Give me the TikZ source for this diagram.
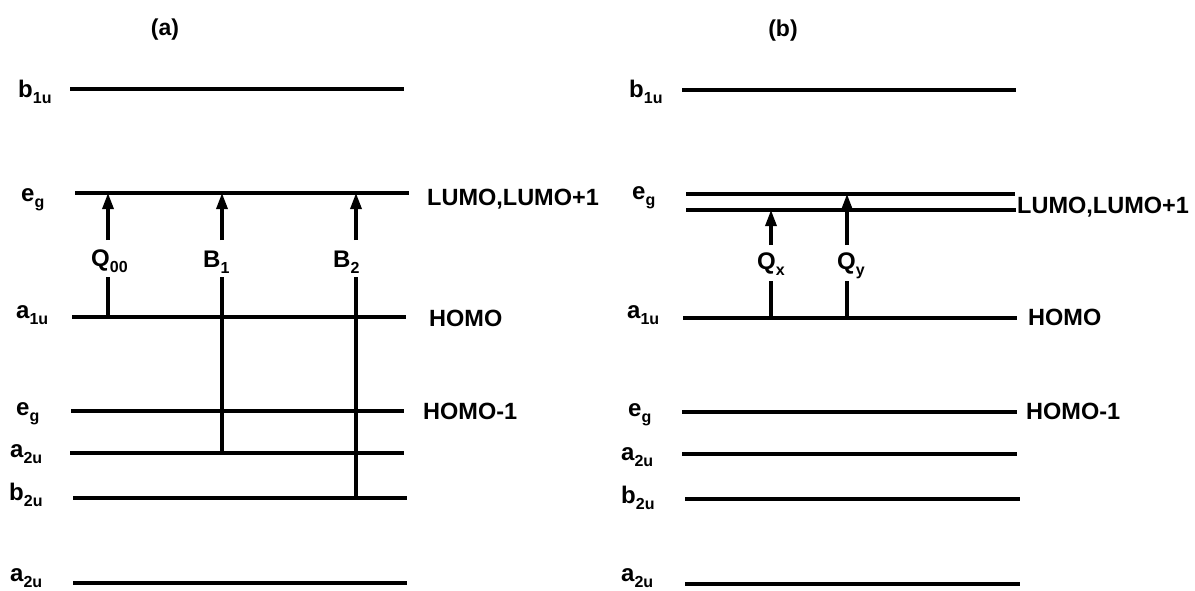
\documentclass[tikz,border=0pt]{standalone}
\usepackage{fontspec}
\setmainfont{Liberation Sans}
\usetikzlibrary{arrows.meta}
\newcommand\mysubtxt[2]{{\fontsize{24}{24}\selectfont #1}\raisebox{-6pt}{\fontsize{16}{16}\selectfont #2}}
\begin{document}
\begin{tikzpicture}[x=1pt,y=-1pt,
  level/.style={line width=3.5pt},
  trans/.style={line width=3.2pt},
  transarrow/.style={line width=3.2pt,-{Triangle[length=16pt,width=11pt]}},
  txt/.style={inner sep=0pt,anchor=base west,font=\bfseries\fontsize{23.5}{23.5}\selectfont},
  lbl/.style={inner sep=0pt,anchor=base west,font=\bfseries}
]
\useasboundingbox (0,0) rectangle (1195,590);

% panel titles
\node[inner sep=0pt,anchor=base,font=\bfseries\fontsize{23}{23}\selectfont] (ta) at (165,35) {(a)};
\node[inner sep=0pt,anchor=base,font=\bfseries\fontsize{23}{23}\selectfont] (tb) at (783,36) {(b)};

% ---------- panel (a) levels ----------
\coordinate (ab1uL) at (70,89);  \coordinate (ab1uR) at (404,89);
\coordinate (aeg1L) at (75,193); \coordinate (aeg1R) at (409,193);
\coordinate (aa1uL) at (72,317); \coordinate (aa1uR) at (406,317);
\coordinate (aeg2L) at (71,411); \coordinate (aeg2R) at (404,411);
\coordinate (aa2uL) at (70,453); \coordinate (aa2uR) at (404,453);
\coordinate (ab2uL) at (73,498); \coordinate (ab2uR) at (407,498);
\coordinate (aa2bL) at (73,583); \coordinate (aa2bR) at (407,583);
\foreach \n in {ab1u,aeg1,aa1u,aeg2,aa2u,ab2u,aa2b}
  \draw[level] (\n L) -- (\n R);

% ---------- panel (b) levels ----------
\coordinate (bb1uL) at (682,90);  \coordinate (bb1uR) at (1016,90);
\coordinate (beg1L) at (686,194); \coordinate (beg1R) at (1015,194);
\coordinate (beg3L) at (686,210); \coordinate (beg3R) at (1016,210);
\coordinate (ba1uL) at (683,318); \coordinate (ba1uR) at (1017,318);
\coordinate (beg2L) at (682,412); \coordinate (beg2R) at (1017,412);
\coordinate (ba2uL) at (682,454); \coordinate (ba2uR) at (1017,454);
\coordinate (bb2uL) at (685,499); \coordinate (bb2uR) at (1020,499);
\coordinate (ba2bL) at (685,584); \coordinate (ba2bR) at (1020,584);
\foreach \n in {bb1u,beg1,beg3,ba1u,beg2,ba2u,bb2u,ba2b}
  \draw[level] (\n L) -- (\n R);

% ---------- level labels (a) ----------
\node[lbl] (la1) at (18,97)  {\mysubtxt{b}{1u}};
\node[lbl] (la2) at (21,201) {\mysubtxt{e}{g}};
\node[lbl] (la3) at (16,318) {\mysubtxt{a}{1u}};
\node[lbl] (la4) at (16,415) {\mysubtxt{e}{g}};
\node[lbl] (la5) at (10,457) {\mysubtxt{a}{2u}};
\node[lbl] (la6) at (9,500)  {\mysubtxt{b}{2u}};
\node[lbl] (la7) at (10,581) {\mysubtxt{a}{2u}};

% ---------- level labels (b) ----------
\node[lbl] (lb1) at (629,97)  {\mysubtxt{b}{1u}};
\node[lbl] (lb2) at (632,199) {\mysubtxt{e}{g}};
\node[lbl] (lb3) at (627,318) {\mysubtxt{a}{1u}};
\node[lbl] (lb4) at (628,416) {\mysubtxt{e}{g}};
\node[lbl] (lb5) at (621,460) {\mysubtxt{a}{2u}};
\node[lbl] (lb6) at (621,503) {\mysubtxt{b}{2u}};
\node[lbl] (lb7) at (621,581) {\mysubtxt{a}{2u}};

% ---------- right labels ----------
\node[txt] (ra1) at (427,205)  {LUMO,LUMO+1};
\node[txt] (ra2) at (429,326)  {HOMO};
\node[txt] (ra3) at (423,419)  {HOMO-1};
\node[txt] (rb1) at (1017,213) {LUMO,LUMO+1};
\node[txt] (rb2) at (1028,325) {HOMO};
\node[txt] (rb3) at (1026,419) {HOMO-1};

% ---------- transition labels ----------
\node[lbl] (q00) at (91,266)  {\mysubtxt{Q}{00}};
\node[lbl] (b1)  at (203,267) {\mysubtxt{B}{1}};
\node[lbl] (b2)  at (333,267) {\mysubtxt{B}{2}};
\node[lbl] (qx)  at (757,269) {\mysubtxt{Q}{x}};
\node[lbl] (qy)  at (837,269) {\mysubtxt{Q}{y}};

% ---------- transitions (a) ----------
\coordinate (q00s) at (108,317); \coordinate (q00l) at (108,277);
\coordinate (q00u) at (108,240); \coordinate (q00t) at (108,193);
\draw[trans] (q00s) -- (q00l);
\draw[transarrow] (q00u) -- (q00t);

\coordinate (b1s) at (222,453); \coordinate (b1l) at (222,277);
\coordinate (b1u) at (222,240); \coordinate (b1t) at (222,193);
\draw[trans] (b1s) -- (b1l);
\draw[transarrow] (b1u) -- (b1t);

\coordinate (b2s) at (356,498); \coordinate (b2l) at (356,277);
\coordinate (b2u) at (356,240); \coordinate (b2t) at (356,193);
\draw[trans] (b2s) -- (b2l);
\draw[transarrow] (b2u) -- (b2t);

% ---------- transitions (b) ----------
\coordinate (qxs) at (771,318); \coordinate (qxl) at (771,281);
\coordinate (qxu) at (771,245); \coordinate (qxt) at (771,210);
\draw[trans] (qxs) -- (qxl);
\draw[transarrow] (qxu) -- (qxt);

\coordinate (qys) at (847,318); \coordinate (qyl) at (847,281);
\coordinate (qyu) at (847,245); \coordinate (qyt) at (847,194);
\draw[trans] (qys) -- (qyl);
\draw[transarrow] (qyu) -- (qyt);
\end{tikzpicture}
\end{document}
